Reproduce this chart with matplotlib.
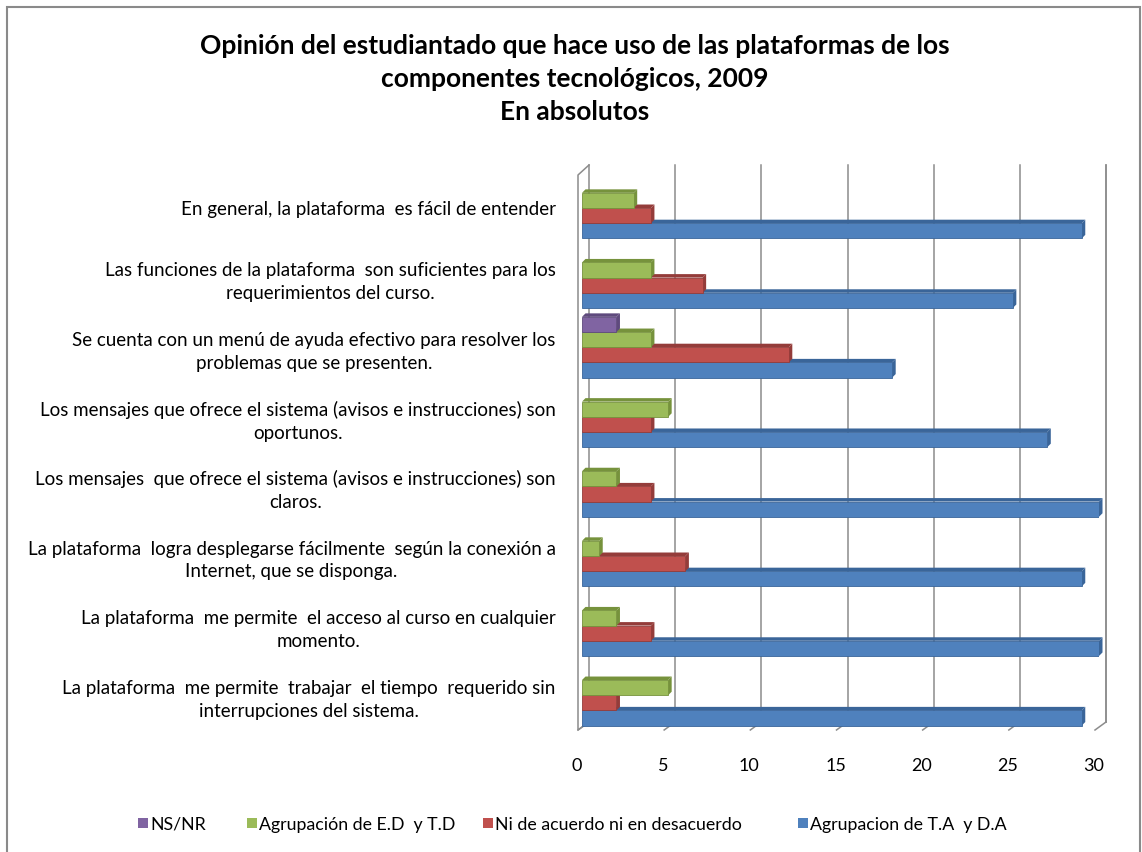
import numpy as np
import matplotlib.pyplot as plt
from matplotlib.patches import Rectangle, Polygon
from matplotlib.transforms import ScaledTranslation, IdentityTransform

# categories listed top to bottom, as in the chart
categories = [
    "En general, la plataforma  es fácil de entender",
    "Las funciones de la plataforma  son suficientes para los\nrequerimientos del curso.",
    "Se cuenta con un menú de ayuda efectivo para resolver los\nproblemas que se presenten.",
    "Los mensajes que ofrece el sistema (avisos e instrucciones) son\noportunos.",
    "Los mensajes  que ofrece el sistema (avisos e instrucciones) son\nclaros.",
    "La plataforma  logra desplegarse fácilmente  según la conexión a\nInternet, que se disponga.",
    "La plataforma  me permite  el acceso al curso en cualquier\nmomento.",
    "La plataforma  me permite  trabajar  el tiempo  requerido sin\ninterrupciones del sistema.",
]
ns_nr = [0, 0, 2, 0, 0, 0, 0, 0]
agrup_ed_td = [3, 4, 4, 5, 2, 1, 2, 5]
ni_acuerdo = [4, 7, 12, 4, 4, 6, 4, 2]
agrup_ta_da = [29, 25, 18, 27, 30, 29, 30, 29]

series_names = ["NS/NR", "Agrupación de E.D  y T.D",
                "Ni de acuerdo ni en desacuerdo", "Agrupacion de T.A  y D.A"]
series_values = [ns_nr, agrup_ed_td, ni_acuerdo, agrup_ta_da]
colors = ["#8064A2", "#9BBB59", "#C0504D", "#4F81BD"]
dark_colors = ["#5f4a7d", "#76923c", "#943c3a", "#3a6599"]
x_ticks = [0, 5, 10, 15, 20, 25, 30]

title = ("Opinión del estudiantado que hace uso de las plataformas de los\n"
         "componentes tecnológicos, 2009\nEn absolutos")

plt.rcParams['font.family'] = ['Lato', 'DejaVu Sans']

W, H = 1142, 852
fig = plt.figure(figsize=(W / 100, H / 100), dpi=100)
fig.patch.set_facecolor('white')

# chart area border
fig.patches.append(Rectangle((7 / W, -0.02), (1140 - 7) / W, 1 - 7 / H + 0.02,
                             transform=fig.transFigure, fill=False,
                             edgecolor='#8a8a8a', lw=1.5))

# plot area: x from 582 px (0) to 1099 px (30), y from 165 px to 730 px
ax = fig.add_axes([582 / W, (H - 730) / H, 517 / W, 565 / H])
ax.set_xlim(0, 30)
ax.set_ylim(7.5, -0.618)
for s in ax.spines.values():
    s.set_visible(False)

px = fig.dpi_scale_trans


def shift(dx, dy):
    return ScaledTranslation(dx / 100, dy / 100, px)


wall = '#8c8c8c'
xt = ax.get_xaxis_transform()
y_back = 8 / 565
# back wall gridlines
for v in x_ticks:
    ax.plot([v, v], [y_back, 1.0], color=wall, lw=1.1, transform=xt + shift(7, 0),
            clip_on=False, zorder=1)


def disp(x, yfrac):
    return xt.transform((x, yfrac))


# floor slants and side walls (display coords)
for v in x_ticks:
    xa, ya = disp(v, 0)
    ax.add_line(plt.Line2D([xa - 4, xa + 7], [ya, ya + 8], color=wall, lw=1.1,
                           transform=IdentityTransform(), clip_on=False))
xa, ya = disp(0, 0)
xb, yb = disp(0, 1)
ax.add_line(plt.Line2D([xa + 7, xa - 4, xa - 4, xa + 7],
                       [ya + 8, ya, yb - 10, yb], color=wall, lw=1.1,
                       transform=IdentityTransform(), clip_on=False))
xa, ya = disp(30, 0)
ax.add_line(plt.Line2D([xa + 7, xa + 7], [ya + 8, yb], color=wall, lw=1.1,
                       transform=IdentityTransform(), clip_on=False))

# bars with a small 3D top and end face
n = len(categories)
pos = np.arange(n)
h = 0.218
d = 3.5
for k in [3, 2, 1, 0]:
    vals = np.array(series_values[k], dtype=float)
    yk = pos + (k - 1.5) * h
    mask = vals > 0
    z = 2 + (3 - k) * 2
    ax.barh(yk[mask], vals[mask], height=h, color=colors[k],
            edgecolor=dark_colors[k], lw=0.6, zorder=z + 1)
    for y, v in zip(yk[mask], vals[mask]):
        X0, Yb = ax.transData.transform((0, y + h / 2))
        X1, Yt = ax.transData.transform((v, y - h / 2))
        top = Polygon([(X0, Yt), (X1, Yt), (X1 + d, Yt + d), (X0 + d, Yt + d)],
                      closed=True, transform=IdentityTransform(),
                      facecolor=dark_colors[k], edgecolor='none',
                      zorder=z, clip_on=False)
        side = Polygon([(X1, Yb), (X1, Yt), (X1 + d, Yt + d), (X1 + d, Yb + d)],
                       closed=True, transform=IdentityTransform(),
                       facecolor=dark_colors[k], edgecolor='none',
                       zorder=z, clip_on=False)
        ax.add_patch(top)
        ax.add_patch(side)

# category labels
ax.set_yticks(pos)
ax.set_yticklabels(categories, fontsize=13.5, linespacing=1.42)
for t in ax.get_yticklabels():
    t.set_multialignment('center')
ax.tick_params(axis='y', length=0, pad=19)

# value axis labels
ax.set_xticks(x_ticks)
ax.set_xticklabels([str(v) for v in x_ticks], fontsize=13)
ax.tick_params(axis='x', length=0, pad=20)
for t in ax.get_xticklabels():
    t.set_transform(t.get_transform() + shift(-5, 0))

fig.text(575 / W, 1 - 79 / H, title, ha='center', va='center', fontsize=19,
         fontweight='bold', linespacing=1.45)

# legend entries laid out along the bottom
legend_x = [138, 247, 483, 798]
for name, c, lx in zip(series_names, colors, legend_x):
    fig.patches.append(Rectangle((lx / W, 1 - 828 / H), 10 / W, 10 / H,
                                 transform=fig.transFigure, facecolor=c,
                                 edgecolor='none'))
    fig.text((lx + 12) / W, 1 - 825 / H, name, ha='left', va='center',
             fontsize=12.8)

fig.savefig('out.png', dpi=100)
